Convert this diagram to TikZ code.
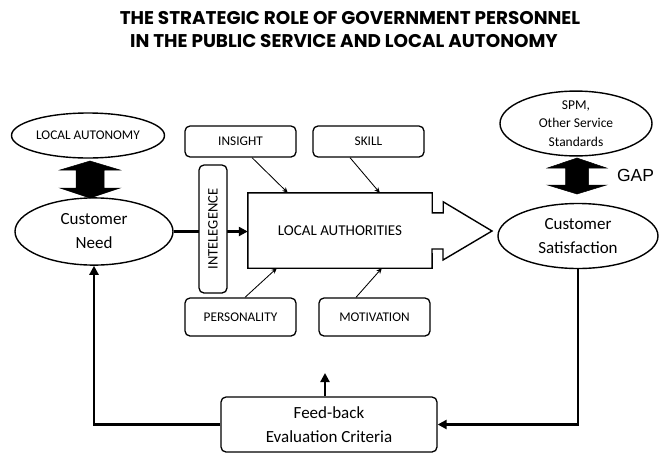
\documentclass[tikz,border=0pt]{standalone}
\usepackage{fontspec}
\setmainfont{Carlito}
\newfontfamily\gapfont{Liberation Sans}
\newfontfamily\titlefont{Poppins}
\usetikzlibrary{shapes.geometric,arrows.meta,calc}

\begin{document}
\begin{tikzpicture}[x=1pt,y=-1pt,
  oval/.style={ellipse,draw,line width=1.4pt,inner sep=0pt,align=center,fill=white},
  rbox/.style={rectangle,rounded corners=5pt,draw,line width=1.3pt,inner sep=0pt,align=center,fill=white},
  thinarrow/.style={line width=0.85pt,-{Stealth[length=5.5pt,width=5pt]}},
  thickarrow/.style={line width=2.6pt,-{Triangle[length=9pt,width=9pt]}},
  smalltext/.style={font=\fontsize{13.3}{15}\selectfont},
  bigtext/.style={font=\fontsize{17}{23.5}\selectfont},
  titletext/.style={font=\titlefont\bfseries\fontsize{18.4}{22}\selectfont},
  blockarrow/.style={fill=black,draw=black,line width=0.5pt,line join=miter},
]
\useasboundingbox (0,0) rectangle (661,453);

% title
\node[titletext] (t1) at (350,18) {THE STRATEGIC ROLE OF GOVERNMENT PERSONNEL};
\node[titletext] (t2) at (344,41) {IN THE PUBLIC SERVICE AND LOCAL AUTONOMY};

% ellipses
\node[oval,smalltext,minimum width=153pt,minimum height=45pt] (locaut) at (88,135.5) {LOCAL AUTONOMY};
\node[oval,bigtext,minimum width=158pt,minimum height=67pt] (need) at (94,231.5)
  {\raisebox{-2.5pt}{\begin{tabular}{@{}c@{}}Customer\\[0.5pt]Need\end{tabular}}};
\node[oval,font=\fontsize{13.5}{18.5}\selectfont,minimum width=152pt,minimum height=63pt] (spm) at (576,123.5) {SPM,\\Other Service\\Standards};
\node[oval,bigtext,minimum width=160pt,minimum height=65pt] (sat) at (578,236) {Customer\\Satisfaction};

% factor boxes
\node[rbox,smalltext,minimum width=111pt,minimum height=31pt] (insight) at (240.5,141.5) {INSIGHT};
\node[rbox,smalltext,minimum width=111pt,minimum height=31pt] (skill) at (368.5,141.5) {SKILL};
\node[rbox,smalltext,minimum width=111pt,minimum height=38pt] (pers) at (240.5,317) {PERSONALITY};
\node[rbox,smalltext,minimum width=111pt,minimum height=38pt] (motiv) at (374.5,317) {MOTIVATION};
\node[rbox,bigtext,minimum width=216pt,minimum height=55pt] (feed) at (329,424.5) {Feed-back\\Evaluation Criteria};

% local authorities block arrow
\node[rectangle,inner sep=0pt,minimum width=184pt,minimum height=75pt,font=\fontsize{15}{18}\selectfont] (la) at (340,230.5) {LOCAL AUTHORITIES};
\draw[line width=1.4pt,line join=miter]
  (la.north west) -- (la.north east) -- ++(0,20) -- ++(11,0) -- ++(0,-11)
  -- (492,231) -- (443,260) -- ++(0,-11) -- ++(-11,0) -- (la.south east) -- (la.south west) -- cycle;

% main flow into local authorities, passing under the intelligence box
\draw[thickarrow] (need.east) -- (need.east -| la.west);
\node[rbox,font=\fontsize{14.5}{16}\selectfont,minimum width=128pt,minimum height=28pt,rotate=90] (intel) at (213,229) {INTELEGENCE};

% influences on local authorities
\draw[thinarrow] ([xshift=11.5pt]insight.south) -- ([xshift=40pt]la.north west);
\draw[thinarrow] ([xshift=-18.5pt]skill.south) -- ([xshift=132pt]la.north west);
\draw[thinarrow] ([xshift=4.5pt]pers.north) -- ([xshift=29pt]la.south west);
\draw[thinarrow] ([xshift=-18.5pt]motiv.north) -- ([xshift=134pt]la.south west);

% feedback loop
\coordinate (fbtip) at (325,373);
\draw[thickarrow,line width=2.2pt] ([xshift=-4pt]feed.north) -- (fbtip);
\draw[thickarrow] (sat.south) |- (feed.east);
\draw[thickarrow] (feed.west) -| (need.south);

% double block arrows
\draw[blockarrow] (90,161) -- (120,170) -- (104,170) -- (104,188) -- (120,188) -- (90,198)
  -- (60,188) -- (76,188) -- (76,170) -- (60,170) -- cycle;
\draw[blockarrow] (577,158) -- (606.5,168) -- (588.5,168) -- (588.5,185) -- (606.5,185) -- (577,194)
  -- (547.5,185) -- (565.5,185) -- (565.5,168) -- (547.5,168) -- cycle;
\node[font=\gapfont\fontsize{17.5}{20}\selectfont] (gap) at (635.5,175) {GAP};

\end{tikzpicture}
\end{document}
